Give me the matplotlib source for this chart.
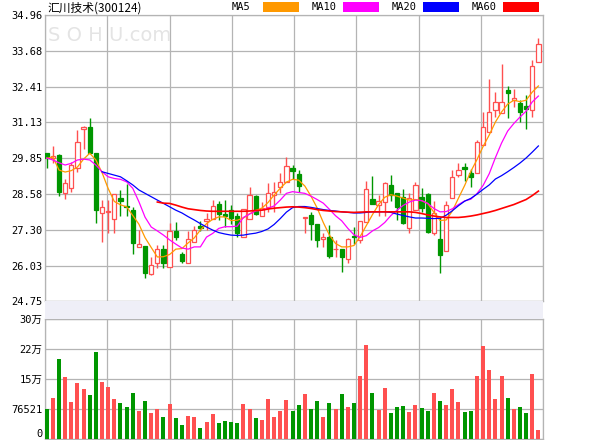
import numpy as np
import matplotlib.pyplot as plt
from matplotlib.patches import Rectangle

plt.rcParams['font.family'] = ['DejaVu Sans Mono', 'Noto Sans CJK SC']

# daily k-line 300124, oldest first (yuan)
opens = [30.03, 29.85, 29.97, 28.60, 28.78, 29.49, 30.88, 30.95, 30.03, 27.89,
         27.93, 27.68, 28.43, 28.16, 28.01, 26.68, 26.72, 25.71, 26.13, 26.61,
         25.99, 27.24, 26.44, 26.11, 26.88, 27.44, 27.62, 27.68, 28.22, 27.85,
         27.99, 27.79, 27.03, 27.68, 28.51, 27.79, 28.13, 28.54, 28.84, 29.02,
         29.49, 29.29, 27.71, 27.84, 27.50, 26.96, 27.03, 26.60, 26.60, 26.25,
         27.08, 26.92, 27.59, 28.40, 28.20, 28.30, 28.90, 28.60, 28.47, 27.35,
         28.02, 28.46, 28.59, 27.20, 26.96, 26.53, 28.42, 29.25, 29.54, 29.32,
         29.32, 30.32, 30.80, 31.57, 31.45, 32.28, 31.93, 31.81, 31.71, 31.57,
         33.29]
highs = [30.05, 30.29, 29.99, 29.10, 29.73, 30.86, 31.00, 31.27, 30.03, 28.37,
         28.37, 28.57, 28.72, 28.94, 28.13, 27.30, 26.72, 26.34, 26.76, 26.76,
         27.53, 27.59, 26.52, 27.24, 27.44, 27.61, 27.89, 28.37, 28.34, 28.37,
         28.17, 27.90, 28.03, 28.82, 28.54, 28.30, 28.96, 29.02, 29.32, 29.91,
         29.61, 29.43, 27.77, 27.93, 27.50, 27.17, 27.47, 26.94, 26.60, 26.99,
         27.41, 27.61, 29.03, 29.22, 28.54, 28.99, 29.25, 28.61, 28.76, 28.60,
         29.02, 28.78, 28.60, 28.33, 27.77, 28.32, 29.43, 29.69, 29.67, 29.46,
         30.50, 31.51, 32.66, 32.22, 33.21, 32.43, 32.31, 31.93, 32.10, 33.35,
         34.13]
lows = [29.49, 29.69, 28.52, 28.39, 28.66, 29.37, 30.17, 30.03, 27.56, 26.88,
        27.20, 27.20, 27.79, 27.79, 26.44, 26.68, 25.59, 25.69, 25.93, 25.93,
        25.98, 26.92, 26.13, 26.11, 26.88, 27.27, 27.30, 27.68, 27.65, 27.41,
        27.51, 27.03, 27.03, 27.68, 27.83, 27.79, 27.95, 27.95, 28.60, 29.02,
        29.11, 28.65, 27.18, 26.94, 26.70, 26.70, 26.31, 26.34, 25.79, 26.13,
        26.79, 26.83, 27.59, 28.22, 27.79, 27.79, 28.31, 27.65, 27.49, 27.18,
        28.02, 27.94, 27.18, 27.11, 25.75, 26.53, 28.42, 29.19, 29.05, 28.82,
        29.32, 30.32, 30.80, 31.31, 31.45, 31.27, 31.67, 31.15, 30.88, 31.31,
        33.29]
closes = [29.85, 29.93, 28.66, 28.96, 29.61, 30.44, 30.95, 30.05, 28.01, 28.13,
          27.97, 28.57, 28.31, 28.13, 26.84, 26.78, 25.75, 26.03, 26.61, 26.11,
          27.26, 27.03, 26.20, 26.96, 27.30, 27.35, 27.68, 28.15, 27.85, 27.80,
          27.72, 27.20, 28.03, 28.55, 27.87, 28.09, 28.60, 28.66, 29.02, 29.57,
          29.41, 28.86, 27.77, 27.50, 26.95, 27.03, 26.37, 26.63, 26.34, 26.96,
          27.03, 27.61, 28.74, 28.22, 28.34, 28.97, 28.54, 28.13, 27.53, 28.42,
          28.90, 28.08, 27.23, 27.89, 26.41, 28.18, 29.17, 29.42, 29.46, 29.20,
          30.44, 30.97, 31.51, 31.84, 31.84, 32.19, 31.99, 31.51, 31.62, 33.14,
          33.92]
# volume in 万 shares
vol_wan = [7.7, 10.5, 20.5, 15.9, 9.5, 14.4, 12.8, 11.3, 22.3, 14.7,
           13.3, 10.3, 9.3, 8.2, 11.8, 7.2, 9.8, 6.7, 7.6, 5.7,
           9.0, 5.3, 3.6, 5.9, 5.7, 3.0, 4.4, 6.5, 4.2, 4.7,
           4.4, 4.2, 9.0, 7.6, 5.3, 4.9, 10.3, 5.7, 7.2, 10.0,
           7.2, 8.8, 11.6, 7.7, 9.8, 5.7, 9.3, 7.7, 11.6, 8.2,
           9.3, 16.2, 24.1, 11.8, 7.5, 13.1, 6.7, 8.2, 8.5, 7.0,
           8.8, 8.0, 7.2, 11.8, 9.8, 8.8, 12.8, 9.5, 7.0, 7.2,
           16.2, 23.8, 17.7, 10.3, 16.2, 10.5, 7.7, 8.2, 6.7, 16.7,
           2.4]

# moving averages as drawn on the chart
ma5 = [29.85, 29.90, 29.43, 29.36, 29.41, 29.54, 29.82, 30.03, 29.79, 29.34,
       28.77, 28.31, 28.19, 28.12, 27.81, 27.50, 27.02, 26.67, 26.33, 26.34,
       26.42, 26.61, 26.63, 26.83, 27.01, 27.29, 27.52, 27.67, 27.76, 27.76,
       27.63, 27.64, 27.72, 27.87, 27.99, 28.07, 28.27, 28.54, 28.78, 29.00,
       29.10, 29.07, 28.86, 28.50, 28.08, 27.56, 27.11, 26.81, 26.69, 26.69,
       26.74, 27.06, 27.45, 27.84, 28.20, 28.46, 28.55, 28.50, 28.43, 28.36,
       28.38, 28.34, 28.24, 27.92, 27.63, 27.65, 27.97, 28.43, 28.88, 29.38,
       29.80, 30.27, 30.68, 31.14, 31.50, 31.78, 31.92, 31.87, 31.92, 32.21,
       32.43]
ma10 = [29.86, 29.79, 29.69, 29.61, 29.67, 29.79, 29.82, 29.79, 29.61, 29.37,
        29.19, 29.13, 29.10, 29.01, 28.78, 28.30, 27.75, 27.40, 27.26, 27.11,
        26.94, 26.79, 26.65, 26.61, 26.69, 26.69, 27.04, 27.17, 27.35, 27.41,
        27.41, 27.43, 27.74, 27.86, 27.97, 28.00, 28.07, 28.15, 28.36, 28.60,
        28.66, 28.63, 28.60, 28.50, 28.38, 28.25, 28.03, 27.80, 27.62, 27.35,
        27.12, 27.03, 27.09, 27.26, 27.38, 27.56, 27.81, 28.00, 28.17, 28.29,
        28.36, 28.34, 28.24, 28.06, 27.94, 27.95, 28.05, 28.20, 28.33, 28.39,
        28.59, 28.88, 29.30, 29.87, 30.39, 30.82, 31.09, 31.32, 31.53, 31.86,
        32.07]
ma20 = [np.nan] * 9 + [
        29.37, 29.31, 29.25, 29.19, 29.05, 28.90, 28.72, 28.60, 28.48, 28.36,
        28.24, 28.12, 28.00, 27.90, 27.77, 27.65, 27.52, 27.40, 27.29, 27.20,
        27.15, 27.11, 27.10, 27.11, 27.15, 27.18, 27.24, 27.33, 27.49, 27.70,
        27.93, 28.09, 28.13, 28.13, 28.10, 28.06, 28.02, 27.99, 27.97, 27.94,
        27.92, 27.90, 27.90, 27.92, 27.94, 27.94, 27.94, 27.92, 27.86, 27.81,
        27.76, 27.72, 27.72, 27.71, 27.70, 27.71, 27.82, 27.98, 28.16, 28.32,
        28.42, 28.57, 28.74, 28.90, 29.11, 29.23, 29.37, 29.52, 29.68, 29.86,
        30.07, 30.29]
ma60 = [np.nan] * 18 + [
        28.29, 28.25, 28.24, 28.18, 28.11, 28.05, 28.02, 27.99, 27.97, 27.96,
        27.96, 27.96, 27.96, 27.96, 27.96, 27.97, 27.99, 28.00, 28.04, 28.07,
        28.09, 28.11, 28.12, 28.11, 28.09, 28.06, 28.02, 27.99, 27.97, 27.95,
        27.94, 27.93, 27.92, 27.93, 27.94, 27.94, 27.94, 27.94, 27.94, 27.94,
        27.94, 27.94, 27.92, 27.88, 27.83, 27.79, 27.76, 27.74, 27.74, 27.74,
        27.76, 27.79, 27.83, 27.88, 27.93, 27.99, 28.06, 28.13, 28.20, 28.29,
        28.38, 28.52, 28.68]

date_labels = ['20171117', '20171201', '20171219', '20180103',
               '20180122', '20180205', '20180226']
date_pos = [9.97, 20.39, 30.80, 41.13, 51.46, 61.88, 72.13]

price_ticks = ['24.75', '26.03', '27.30', '28.58', '29.85', '31.13', '32.41', '33.68', '34.96']
vol_ticks = ['0', '76521', '15万', '22万', '30万']

W, H = 600, 440
def fx(px): return px / W
def fy(py): return 1 - py / H

L, R = 45, 543
P_TOP, P_BOT = 15, 301.3
V_TOP, V_BOT = 319, 439.3
grid_c = '#B4B4B4'
red, green = '#FF5050', '#009600'

fig = plt.figure(figsize=(W / 100, H / 100), dpi=100)
ax = fig.add_axes([fx(L), fy(P_BOT), (R - L) / W, (P_BOT - P_TOP) / H])
vax = fig.add_axes([fx(L), fy(V_BOT), (R - L) / W, (V_BOT - V_TOP) / H])

# date band between the panels
fig.patches.append(Rectangle((fx(L), fy(V_TOP)), (R - L) / W, (V_TOP - P_BOT) / H,
                             transform=fig.transFigure, facecolor='#EFEFF7',
                             edgecolor='none', zorder=0))

o = np.array(opens); c = np.array(closes)
hi = np.array(highs); lo = np.array(lows)
x = np.arange(len(c))
up = c >= o
cols = np.where(up, red, green)
xlim = (-0.28, 80.75)

# candles
ax.vlines(x, lo, hi, colors=cols, lw=1.0, zorder=3)
body_lo = np.minimum(o, c)
body_h = np.maximum(np.abs(c - o), 0.025)
ax.bar(x, body_h, 0.7, bottom=body_lo, color=np.where(up, 'white', green),
       edgecolor=cols, lw=0.9, zorder=4)

ax.plot(x, ma5, color='#FF9900', lw=0.9, zorder=5)
ax.plot(x, ma10, color='#FF00FF', lw=0.9, zorder=5)
ax.plot(x, ma20, color='#0000FF', lw=0.9, zorder=5)
ax.plot(x, ma60, color='#FF0000', lw=1.2, zorder=5)

ax.set_xlim(*xlim)
ax.set_ylim(24.75, 34.96)
ax.set_yticks(np.linspace(24.75, 34.96, 9))
ax.set_yticklabels(price_ticks)

# volume
vax.bar(x, np.array(vol_wan) * 10000, 0.65, color=cols, zorder=3)
vax.set_xlim(*xlim)
vmax = 76521 * 4
vax.set_ylim(0, vmax)
vax.set_yticks(np.linspace(0, vmax, 5))
vax.set_yticklabels(vol_ticks)
vax.get_yticklabels()[0].set_va('bottom')

for a in (ax, vax):
    a.set_xticks(np.linspace(xlim[0], xlim[1], 9))
    a.set_xticklabels([])
    a.grid(True, color=grid_c, lw=0.9, zorder=0)
    a.set_axisbelow(True)
    a.tick_params(length=0, pad=2, labelsize=7.5, colors='black')
    for s in a.spines.values():
        s.set_color(grid_c)
        s.set_linewidth(0.9)

for p, lab in zip(date_pos, date_labels):
    ax.text(p, -0.034, lab, transform=ax.get_xaxis_transform(), ha='center',
            va='center', fontsize=7.5, clip_on=False)

# watermark
ax.text(0.006, 0.93, 'S O H U.com', transform=ax.transAxes, fontsize=14,
        color='#E4E4E4', family='DejaVu Sans', va='center', ha='left', zorder=1)

# title + legend
fig.text(fx(47), fy(8.5), '汇川技术(300124)', family='Noto Sans CJK SC',
         fontsize=8.5, va='center', ha='left')
legend = [('MA5', '#FF9900'), ('MA10', '#FF00FF'), ('MA20', '#0000FF'), ('MA60', '#FF0000')]
for k, (name, col) in enumerate(legend):
    x0 = 231.7 + 80 * k
    fig.text(fx(x0), fy(7.5), name, fontsize=7.5, va='center', ha='left')
    fig.patches.append(Rectangle((fx(x0 + 31.6), fy(11.7)), 35.7 / W, 9.7 / H,
                                 transform=fig.transFigure, facecolor=col,
                                 edgecolor='none'))

fig.savefig('out.png', dpi=100)
